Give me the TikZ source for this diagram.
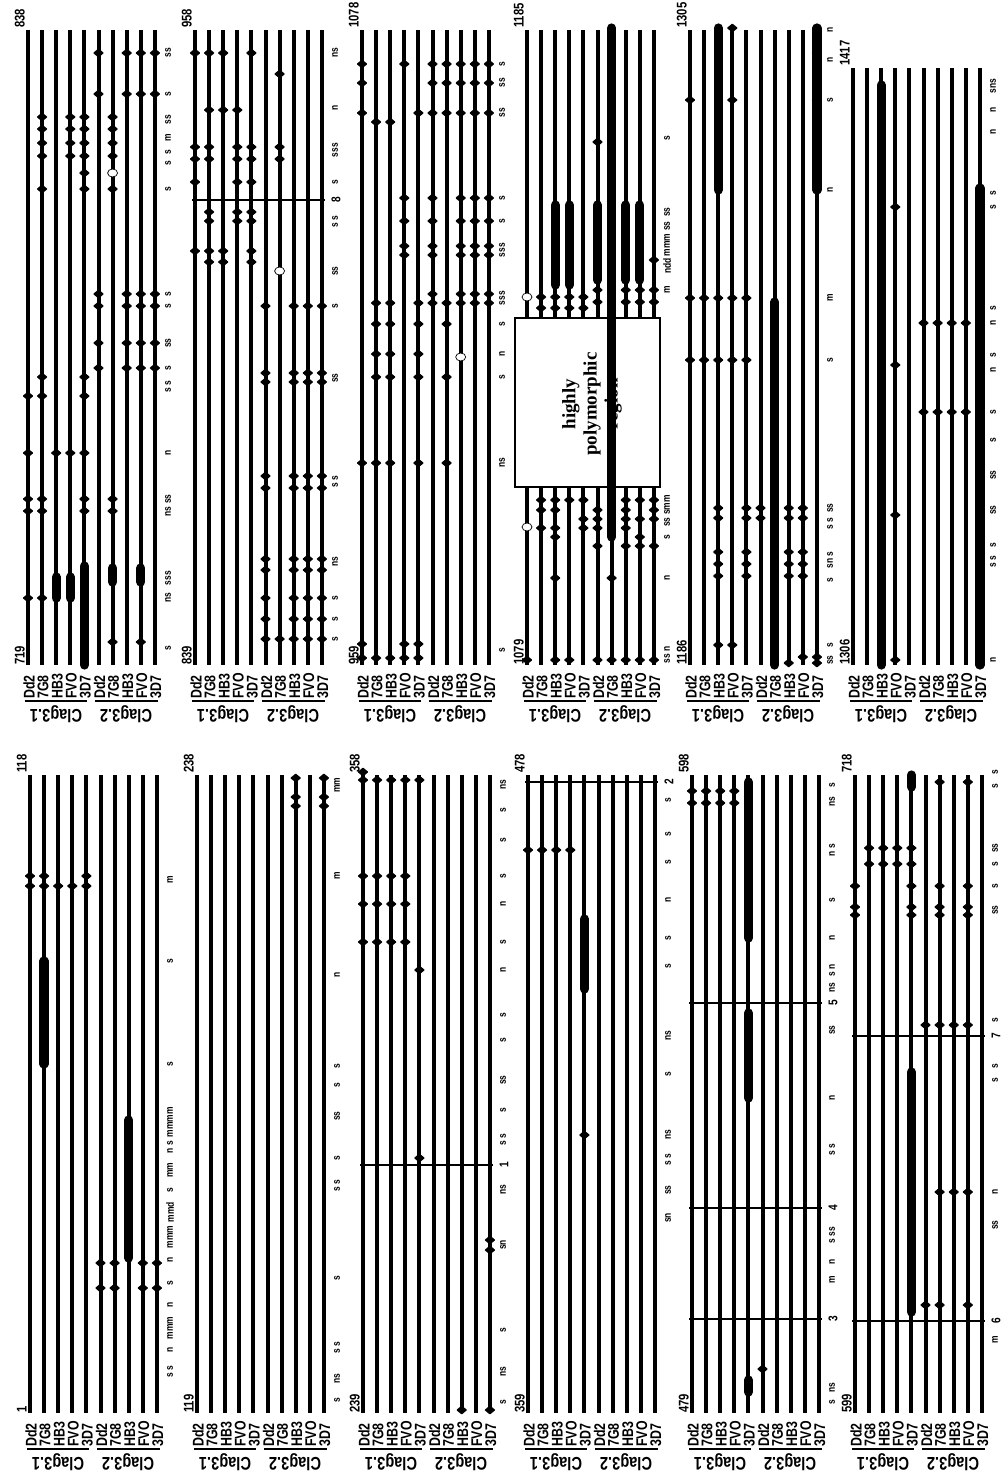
\documentclass[tikz,border=0pt]{standalone}
\usepackage{fontspec}
\newfontfamily\labfont[FakeStretch=0.8]{Liberation Sans}
\newfontfamily\boxfont{Liberation Serif}
\begin{document}
\begin{tikzpicture}[x=0.025cm, y=-0.025cm,
    strand/.style={line width=0.1cm},
    run/.style={line width=0.23cm, line cap=round},
    intron/.style={line width=0.04cm},
    strain/.style={rotate=90, anchor=west, inner sep=0pt,
      font=\labfont\bfseries\fontsize{11}{11}\selectfont},
    clag/.style={rotate=180, inner sep=0pt,
      font=\labfont\bfseries\fontsize{13}{13}\selectfont},
    resno/.style={rotate=90, anchor=south west, inner sep=0pt,
      font=\labfont\bfseries\fontsize{10}{10}\selectfont},
    annot/.style={rotate=90, inner sep=0pt,
      font=\labfont\bfseries\fontsize{7.5}{7.5}\selectfont},
    intronno/.style={rotate=90, inner sep=0pt,
      font=\labfont\bfseries\fontsize{9}{9}\selectfont},
    snp/.pic={\fill[rounded corners=0.5pt] (-5.5,0) -- (0,-4.5) -- (5.5,0) -- (0,4.5) -- cycle;},
    hollow/.pic={\draw[fill=white, line width=0.5pt] (0,0) ellipse [x radius=5, y radius=4];}]

\useasboundingbox (0,0) rectangle (1001,1471);
\fill[white] (0,0) rectangle (1001,1471);

% ten strands per panel, numbers and strain labels
\foreach \px/\top/\bot/\first/\last in {30/775/1413/1/118, 197/775/1413/119/238,
    363/775/1413/239/358, 528/775/1413/359/478, 692/775/1413/479/598,
    855/775/1413/599/718, 28/30/665/719/838, 195/30/665/839/958,
    362/30/665/959/1078, 527/30/665/1079/1185, 690/30/665/1186/1305,
    853/68/665/1306/1417}{
  \foreach \i in {0,...,9}
    \draw[strand] ({\px+14.1*\i},\top) -- ({\px+14.1*\i},\bot);
  \node[resno] (start\first) at (\px-3,\bot) {\first};
  \node[resno] (end\last) at (\px-3,\top-2) {\last};
  \foreach \i/\s in {0/Dd2,1/7G8,2/HB3,3/FVO,4/3D7,5/Dd2,6/7G8,7/HB3,8/FVO,9/3D7}
    \node[strain] (lab\first-\i) at ({\px+14.1*\i+1},\bot+34) {\s};
  \draw[line width=0.03cm] (\px-3,\bot+36) -- (\px+59,\bot+36);
  \draw[line width=0.03cm] (\px+67,\bot+36) -- (\px+130,\bot+36);
  \node[clag] (clagA\first) at (\px+28,\bot+49) {Clag3.1};
  \node[clag] (clagB\first) at (\px+98,\bot+49) {Clag3.2};
}

% 1-118
\begin{scope}[shift={(30,0)}]
  \foreach \i/\a/\b in {1/961/1064, 7/1120/1258}
    \draw[run] ({14.1*\i},\a) -- ({14.1*\i},\b);
  \foreach \y/\ls in {876/{0,1,4}, 886/{0,1,2,3,4}, 1263/{5,6,8,9}, 1288/{5,6,8,9}}
    \foreach \i in \ls \pic at ({14.1*\i},\y) {snp};
  \foreach \y/\t [count=\k] in {880/m, 961/s, 1064/s, 1122/mmmm, 1147/n s, 1170/mm,
      1190/s, 1212/mmd, 1237/mmm, 1260/n, 1283/s, 1305/n, 1328/mmm, 1350/n, 1372/s s}
    \node[annot] (nA\k) at (140,\y) {\t};
\end{scope}

% 119-238
\begin{scope}[shift={(197,0)}]
  \foreach \y/\ls in {778/{7,9}, 797/{7,9}, 806/{7,9}}
    \foreach \i in \ls \pic at ({14.1*\i},\y) {snp};
  \foreach \y/\t [count=\k] in {785/mm, 876/m, 975/n, 1066/s, 1085/s, 1116/ss, 1158/s,
      1186/s s, 1278/s, 1348/s s, 1379/ns, 1400/s}
    \node[annot] (nB\k) at (140,\y) {\t};
\end{scope}

% 239-358
\begin{scope}[shift={(363,0)}]
  \foreach \y/\t in {1165/1}{
    \draw[intron] (-3,\y) -- (130,\y);
    \node[intronno] (ex\t) at (141,\y) {\t};}
  \foreach \y/\ls in {772/{0}, 780/{0,1,2,3,4}, 876/{0,1,2,3}, 904/{0,1,2,3},
      942/{0,1,2,3}, 970/{4}, 1158/{4}, 1240/{9}, 1250/{9}, 1410/{7,9}}
    \foreach \i in \ls \pic at ({14.1*\i},\y) {snp};
  \foreach \y/\t [count=\k] in {785/ns, 810/s, 840/s, 876/s, 904/n, 942/s, 970/n,
      1015/s, 1040/s, 1080/ss, 1110/s, 1140/s s, 1190/ns, 1245/sn, 1330/s, 1372/ns, 1402/s}
    \node[annot] (nC\k) at (140,\y) {\t};
\end{scope}

% 359-478
\begin{scope}[shift={(528,0)}]
  \foreach \y/\t in {782/2}{
    \draw[intron] (-3,\y) -- (130,\y);
    \node[intronno] (ex\t) at (141,\y) {\t};}
  \foreach \i/\a/\b in {4/919/989}
    \draw[run] ({14.1*\i},\a) -- ({14.1*\i},\b);
  \foreach \y/\ls in {850/{0,1,2,3}, 1135/{4}}
    \foreach \i in \ls \pic at ({14.1*\i},\y) {snp};
  \foreach \y/\t [count=\k] in {800/s, 834/s, 862/s, 900/n, 938/s, 966/s, 1036/ns,
      1074/s, 1135/ns, 1160/s s, 1190/ss, 1218/sn}
    \node[annot] (nD\k) at (140,\y) {\t};
\end{scope}

% 479-598
\begin{scope}[shift={(692,0)}]
  \foreach \y/\t in {1003/5, 1208/4, 1319/3}{
    \draw[intron] (-3,\y) -- (130,\y);
    \node[intronno] (ex\t) at (141,\y) {\t};}
  \foreach \i/\a/\b in {4/782/938, 4/1013/1098, 4/1380/1392}
    \draw[run] ({14.1*\i},\a) -- ({14.1*\i},\b);
  \foreach \y/\ls in {791/{0,1,2,3}, 803/{0,1,2,3}, 1369/{5}}
    \foreach \i in \ls \pic at ({14.1*\i},\y) {snp};
  \foreach \y/\t [count=\k] in {785/s, 802/ns, 850/n s, 900/s, 938/n, 970/s n, 988/ns,
      1030/ss, 1098/n, 1150/s s, 1235/s ss, 1262/n, 1280/m, 1388/ns, 1402/s}
    \node[annot] (nE\k) at (140,\y) {\t};
\end{scope}

% 599-718
\begin{scope}[shift={(855,0)}]
  \foreach \y/\t in {1036/7, 1321/6}{
    \draw[intron] (-3,\y) -- (130,\y);
    \node[intronno] (ex\t) at (141,\y) {\t};}
  \foreach \i/\a/\b in {4/775/787, 4/1072/1312}
    \draw[run] ({14.1*\i},\a) -- ({14.1*\i},\b);
  \foreach \y/\ls in {782/{6,8}, 848/{1,2,3,4}, 864/{1,2,3,4}, 886/{0,4,6,8},
      907/{0,4,6,8}, 915/{0,4,6,8}, 1025/{5,6,7,8}, 1192/{6,7,8}, 1305/{5,6,8}}
    \foreach \i in \ls \pic at ({14.1*\i},\y) {snp};
  \foreach \y/\t [count=\k] in {772/s, 786/s, 848/ss, 864/s, 886/s, 910/ss, 1020/s,
      1066/s, 1080/s, 1192/n, 1225/ss, 1340/m}
    \node[annot] (nF\k) at (140,\y) {\t};
\end{scope}

% 719-838
\begin{scope}[shift={(28,0)}]
  \foreach \i/\a/\b in {2/577/598, 3/577/598, 4/566/665, 6/568/582, 8/568/582}
    \draw[run] ({14.1*\i},\a) -- ({14.1*\i},\b);
  \foreach \y/\ls in {53/{5,7,8,9}, 94/{5,7,8,9}, 117/{1,3,4,6}, 129/{1,3,4,6},
      143/{1,3,4,6}, 156/{1,3,4,6}, 173/{4}, 189/{1,4,6}, 294/{5,7,8,9},
      306/{5,7,8,9}, 343/{5,7,8,9}, 368/{5,7,8,9}, 377/{1,4}, 396/{0,1,4},
      453/{0,2,3,4}, 499/{0,1,4,6}, 511/{0,1,4,6}, 598/{0,1}, 642/{6,8}}
    \foreach \i in \ls \pic at ({14.1*\i},\y) {snp};
  \pic at ({14.1*6},173) {hollow};
  \foreach \y/\t [count=\k] in {53/ss, 94/s, 120/ss, 138/m, 152/s, 163/s, 189/s,
      294/s, 306/s, 343/ss, 368/s, 387/s s, 453/n, 499/ss, 512/ns, 578/sss, 598/ns, 648/s}
    \node[annot] (nG\k) at (140,\y) {\t};
\end{scope}

% 839-958
\begin{scope}[shift={(195,0)}]
  \foreach \y/\t in {200/8}{
    \draw[intron] (-3,\y) -- (130,\y);
    \node[intronno] (ex\t) at (141,\y) {\t};}
  \foreach \y/\ls in {53/{0,1,2,4}, 74/{6}, 110/{1,2,3}, 147/{0,1,3,4,6},
      159/{0,1,3,4,6}, 182/{0,3,4}, 212/{1,3,4}, 221/{1,3,4}, 251/{0,1,2,4},
      262/{1,2,4}, 306/{5,7,8,9}, 373/{5,7,8,9}, 382/{5,7,8,9}, 476/{5,7,8,9},
      488/{5,7,8,9}, 559/{5,7,8,9}, 570/{5,7,8,9}, 598/{5,7,8,9}, 619/{5,7,8,9},
      639/{5,6,7,8,9}}
    \foreach \i in \ls \pic at ({14.1*\i},\y) {snp};
  \pic at ({14.1*6},271) {hollow};
  \foreach \y/\t [count=\k] in {53/ns, 108/n, 150/sss, 182/s, 222/s s, 271/ss, 306/s,
      378/ss, 482/s s, 562/ns, 598/s, 619/s, 639/s}
    \node[annot] (nH\k) at (140,\y) {\t};
\end{scope}

% 959-1078
\begin{scope}[shift={(362,0)}]
  \foreach \y/\ls in {64/{0,3,5,6,7,8,9}, 83/{0,5,6,7,8,9}, 113/{0,4,5,6,7,8,9},
      122/{1,2}, 198/{3,5,7,8,9}, 221/{3,5,7,8,9}, 246/{3,5,7,8,9},
      255/{3,5,7,8,9}, 294/{5,7,8,9}, 303/{1,2,4,5,6,7,8,9}, 324/{1,2,4,6},
      354/{1,2,4}, 377/{1,2,4,6}, 463/{0,1,2,4,6}, 644/{0,3,4}, 658/{0,1,2,3,4}}
    \foreach \i in \ls \pic at ({14.1*\i},\y) {snp};
  \pic at ({14.1*7},357) {hollow};
  \foreach \y/\t [count=\k] in {64/s, 83/ss, 113/ss, 198/s, 221/s, 250/sss, 298/sss,
      324/s, 354/n, 377/s, 463/ns, 650/s}
    \node[annot] (nI\k) at (140,\y) {\t};
\end{scope}

% 1079-1185
\begin{scope}[shift={(527,0)}]
  \foreach \i/\a/\b in {2/205/285, 3/205/285, 5/205/280, 7/205/280, 8/205/280}
    \draw[run] ({14.1*\i},\a) -- ({14.1*\i},\b);
  \foreach \y/\ls in {142/{5}, 260/{9}, 290/{5,7,8,9}, 297/{1,2,3,4},
      302/{5,7,8,9}, 308/{1,2,3,4}, 500/{1,2,3,4,7,8,9}, 510/{1,2,5,7,9},
      519/{4,5,7,8,9}, 528/{1,2,4,5,7}, 537/{2,8}, 546/{5,7,8,9}, 578/{2,6},
      660/{0,2,3,5,6,7,8,9}}
    \foreach \i in \ls \pic at ({14.1*\i},\y) {snp};
  \foreach \y in {297,527} \pic at (0,\y) {hollow};
  \draw[fill=white, line width=0.04cm] (-12,318) rectangle (133,487);
  \node[rotate=90, align=center, inner sep=0pt,
    font=\boxfont\bfseries\fontsize{13.5}{15}\selectfont] (hpr) at (65,404)
    {highly\\polymorphic\\region};
  \draw[run] ({14.1*6},28) -- ({14.1*6},537);
  \foreach \y/\t [count=\k] in {138/s, 212/ss, 226/ss, 245/mmm, 266/ndd, 290/m,
      505/smm, 522/ss, 537/s, 578/n, 655/ss n}
    \node[annot] (nJ\k) at (140,\y) {\t};
\end{scope}

% 1186-1305
\begin{scope}[shift={(690,0)}]
  \foreach \i/\a/\b in {2/28/190, 9/28/190, 6/302/665}
    \draw[run] ({14.1*\i},\a) -- ({14.1*\i},\b);
  \foreach \y/\ls in {28/{3}, 53/{9}, 100/{0,3,9}, 298/{0,1,2,3,4}, 360/{0,1,2,3,4},
      508/{2,4,5,7,8}, 518/{2,4,5,7,8}, 552/{2,4,7,8}, 564/{2,4,7,8},
      576/{2,4,7,8}, 645/{2,3}, 657/{8,9}, 663/{7,9}}
    \foreach \i in \ls \pic at ({14.1*\i},\y) {snp};
  \foreach \y/\t [count=\k] in {30/n, 60/n, 100/s, 190/n, 298/m, 360/s, 508/ss,
      524/s s, 560/sn s, 580/s, 645/s, 660/ss}
    \node[annot] (nK\k) at (140,\y) {\t};
\end{scope}

% 1306-1417
\begin{scope}[shift={(853,0)}]
  \foreach \i/\a/\b in {2/85/665, 9/188/665}
    \draw[run] ({14.1*\i},\a) -- ({14.1*\i},\b);
  \foreach \y/\ls in {207/{3}, 323/{5,6,7,8}, 365/{3}, 412/{5,6,7,8}, 515/{3}, 660/{3}}
    \foreach \i in \ls \pic at ({14.1*\i},\y) {snp};
  \foreach \y/\t [count=\k] in {86/sns, 110/n, 132/n, 193/s, 207/s, 308/s, 323/n,
      355/s, 370/n, 412/s, 440/s, 475/ss, 510/ss, 545/s, 562/s s, 660/n}
    \node[annot] (nL\k) at (140,\y) {\t};
\end{scope}
\end{tikzpicture}
\end{document}
